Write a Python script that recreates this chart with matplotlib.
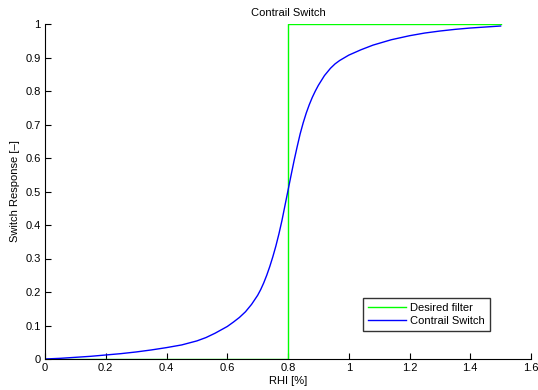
import matplotlib
matplotlib.use("Agg")
import matplotlib.pyplot as plt

# --- data ---
filter_x = [0.0, 0.8, 0.8, 1.5]
filter_y = [0.0, 0.0, 1.0, 1.0]

switch_x = [0.0, 0.05, 0.1, 0.15, 0.2, 0.25, 0.3, 0.35, 0.4, 0.45, 0.5,
            0.53, 0.56, 0.6, 0.62, 0.64, 0.66, 0.68, 0.7, 0.71, 0.72, 0.73,
            0.74, 0.75, 0.76, 0.77, 0.78, 0.79, 0.8, 0.81, 0.82, 0.83, 0.84,
            0.85, 0.86, 0.87, 0.88, 0.89, 0.9, 0.92, 0.94, 0.955, 0.97, 1.0,
            1.04, 1.08, 1.14, 1.2, 1.25, 1.3, 1.35, 1.4, 1.45, 1.5]
switch_y = [0.0, 0.002, 0.005, 0.008, 0.012, 0.016, 0.021, 0.027, 0.034,
            0.042, 0.054, 0.064, 0.077, 0.097, 0.110, 0.124, 0.141, 0.163,
            0.190, 0.207, 0.227, 0.250, 0.276, 0.305, 0.337, 0.373, 0.413,
            0.458, 0.503, 0.548, 0.592, 0.633, 0.672, 0.705, 0.734, 0.759,
            0.781, 0.800, 0.817, 0.846, 0.868, 0.881, 0.891, 0.907, 0.923,
            0.937, 0.953, 0.965, 0.973, 0.979, 0.984, 0.988, 0.991, 0.994]

x_ticks = [0, 0.2, 0.4, 0.6, 0.8, 1, 1.2, 1.4, 1.6]
y_ticks = [0, 0.1, 0.2, 0.3, 0.4, 0.5, 0.6, 0.7, 0.8, 0.9, 1]

# --- style ---
FS = 8
plt.rcParams["font.family"] = ["Liberation Sans", "DejaVu Sans"]

fig = plt.figure(figsize=(5.38, 3.9), dpi=100)
ax = fig.add_axes([45 / 538, 31 / 390, 486 / 538, 335 / 390])

ax.plot(filter_x, filter_y, color=(0, 1, 0), lw=1.0, label="Desired filter")
ax.plot(switch_x, switch_y, color=(0, 0, 1), lw=1.0, label="Contrail Switch")

ax.set_xlim(0, 1.6)
ax.set_ylim(0, 1)
ax.set_xticks(x_ticks)
ax.set_yticks(y_ticks)
ax.set_xticklabels([f"{t:g}" for t in x_ticks])
ax.set_yticklabels([f"{t:g}" for t in y_ticks])

ax.spines["top"].set_visible(False)
ax.spines["right"].set_visible(False)
ax.tick_params(direction="in", length=4, width=0.8, labelsize=FS, pad=3)

ax.set_title("Contrail Switch", fontsize=FS, pad=6)
ax.set_xlabel("RHI [%]", fontsize=FS, labelpad=2)
ax.set_ylabel("Switch Response [\u2013]", fontsize=FS, labelpad=4)

leg = ax.legend(loc="lower right", bbox_to_anchor=(0.916, 0.085), fontsize=FS,
                frameon=True, fancybox=False, handlelength=3.4,
                borderpad=0.45, labelspacing=0.25, handletextpad=0.4,
                borderaxespad=0.0)
leg.get_frame().set_edgecolor("black")
leg.get_frame().set_linewidth(1.0)

fig.savefig("out.png", dpi=100)
